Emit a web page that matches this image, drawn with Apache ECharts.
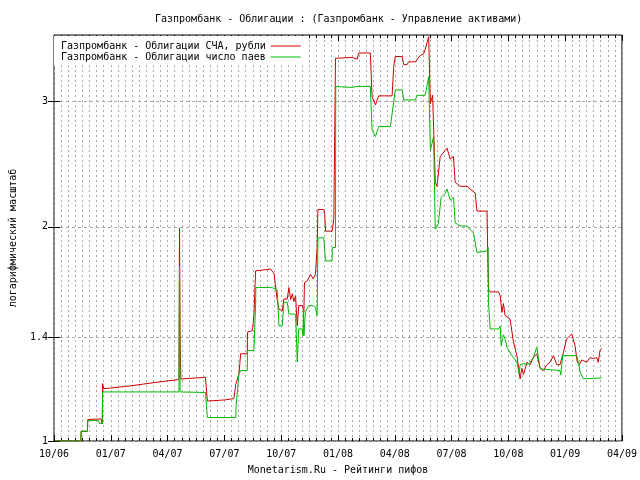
<!DOCTYPE html>
<html>
<head>
<meta charset="utf-8">
<script src="https://cdn.jsdelivr.net/npm/echarts@6/dist/echarts.min.js"></script>
<style>html,body{margin:0;padding:0;background:#fff}#c{width:640px;height:480px}</style>
</head>
<body>
<div id="c"></div>
<script>
// x values: months elapsed since 1 Oct 2006
const titleText = 'Газпромбанк - Облигации : (Газпромбанк - Управление активами)';
const xAxisTitle = 'Monetarism.Ru - Рейтинги пифов';
const yAxisTitle = 'логарифмический масштаб';
const seriesNames = ['Газпромбанк - Облигации СЧА, рубли', 'Газпромбанк - Облигации число паев'];
const yTickValues = [1, 1.4, 2, 3];
const xTickMonths = [0, 3, 6, 9, 12, 15, 18, 21, 24, 27, 30];

const scaRubli = [
  [0.10,1.000],[1.42,1.000],[1.43,1.032],[1.77,1.032],[1.78,1.072],[2.48,1.074],[2.55,1.058],
  [2.57,1.204],[2.62,1.184],[4.0,1.195],[5.5,1.210],[6.60,1.220],[6.63,1.99],[6.66,1.40],
  [6.70,1.222],[8.0,1.229],[8.10,1.138],[9.0,1.142],[9.5,1.147],[9.6,1.20],[9.77,1.243],
  [9.86,1.326],[10.21,1.326],[10.22,1.422],[10.48,1.43],[10.56,1.5],[10.65,1.734],[10.7,1.744],
  [11.44,1.744],[11.62,1.72],[11.70,1.652],[11.79,1.58],[11.88,1.532],[12.06,1.525],[12.14,1.583],
  [12.32,1.583],[12.41,1.643],[12.50,1.58],[12.59,1.61],[12.67,1.57],[12.76,1.60],[12.85,1.452],
  [12.93,1.55],[13.11,1.55],[13.20,1.52],[13.23,1.67],[13.38,1.68],[13.55,1.715],[13.69,1.69],
  [13.81,1.715],[13.90,1.87],[13.94,2.115],[14.25,2.115],[14.30,2.083],[14.34,1.972],[14.69,1.972],
  [14.78,2.05],[14.87,3.45],[14.96,3.47],[15.75,3.46],[15.76,3.44],[16.01,3.44],[16.10,3.51],
  [16.71,3.51],[16.80,3.05],[16.98,2.967],[17.15,3.055],[17.86,3.055],[17.94,3.35],[18.03,3.47],
  [18.39,3.47],[18.47,3.38],[18.65,3.38],[18.73,3.41],[19.09,3.41],[19.18,3.44],[19.35,3.48],
  [19.52,3.50],[19.61,3.55],[19.79,3.70],[19.84,3.72],[19.88,2.98],[20.0,3.06],[20.05,3.06],
  [20.14,2.31],[20.23,2.28],[20.40,2.51],[20.76,2.58],[20.93,2.49],[21.10,2.51],[21.19,2.31],
  [21.46,2.28],[21.81,2.28],[22.25,2.23],[22.34,2.104],[22.87,2.104],[22.95,1.634],[23.04,1.62],
  [23.48,1.62],[23.57,1.60],[23.66,1.516],[23.74,1.56],[23.83,1.50],[24.09,1.484],[24.27,1.377],
  [24.45,1.318],[24.62,1.223],[24.71,1.265],[24.80,1.24],[24.98,1.29],[25.15,1.28],[25.32,1.31],
  [25.50,1.326],[25.68,1.265],[25.85,1.256],[26.03,1.28],[26.20,1.29],[26.38,1.318],[26.56,1.28],
  [26.73,1.28],[26.90,1.33],[27.08,1.391],[27.35,1.414],[27.43,1.414],[27.52,1.362],[27.64,1.29],
  [27.75,1.28],[27.88,1.30],[28.14,1.29],[28.31,1.31],[28.49,1.305],[28.67,1.31],[28.75,1.29],
  [28.84,1.34],[28.93,1.35]
];

const chisloPaev = [
  [0.10,1.000],[1.42,1.000],[1.43,1.032],[1.77,1.032],[1.78,1.068],[2.35,1.068],[2.40,1.058],
  [2.55,1.058],[2.57,1.172],[6.60,1.172],[6.63,1.76],[6.66,1.172],[8.0,1.170],[8.10,1.079],
  [9.6,1.079],[9.62,1.122],[9.77,1.243],[9.86,1.256],[10.21,1.256],[10.22,1.34],[10.56,1.34],
  [10.65,1.557],[10.66,1.643],[11.44,1.643],[11.62,1.64],[11.79,1.63],[11.88,1.452],[12.06,1.452],
  [12.14,1.566],[12.32,1.566],[12.41,1.508],[12.76,1.508],[12.85,1.291],[12.93,1.437],[13.11,1.437],
  [13.15,1.406],[13.18,1.53],[13.20,1.406],[13.28,1.52],[13.45,1.549],[13.69,1.549],[13.81,1.54],
  [13.90,1.5],[13.94,1.93],[14.25,1.93],[14.34,1.791],[14.69,1.791],[14.70,1.87],[14.87,1.87],
  [14.88,3.148],[15.75,3.14],[16.01,3.15],[16.71,3.15],[16.80,2.736],[16.98,2.678],[17.15,2.766],
  [17.77,2.766],[17.86,2.75],[18.03,3.115],[18.39,3.115],[18.47,3.015],[19.09,3.015],[19.18,3.06],
  [19.61,3.06],[19.79,3.25],[19.88,2.56],[20.05,2.68],[20.14,1.984],[20.30,2.02],[20.45,2.20],
  [20.67,2.23],[20.76,2.26],[20.93,2.18],[21.10,2.20],[21.19,2.026],[21.46,2.005],[21.81,2.005],
  [22.16,1.96],[22.34,1.84],[22.87,1.85],[22.93,1.87],[22.95,1.566],[23.04,1.437],[23.48,1.437],
  [23.57,1.45],[23.62,1.362],[23.74,1.41],[23.83,1.39],[23.92,1.355],[24.18,1.318],[24.45,1.291],
  [24.57,1.243],[24.62,1.28],[24.80,1.285],[24.98,1.28],[25.15,1.29],[25.32,1.31],[25.50,1.355],
  [25.59,1.31],[25.68,1.263],[25.77,1.256],[26.73,1.256],[26.77,1.238],[26.87,1.318],[27.61,1.318],
  [27.70,1.29],[27.79,1.25],[27.96,1.223],[28.93,1.226]
];

const FONT = 'DejaVu Sans Mono';
function monthLabel(v) {
  const total = 9 + Math.round(v);
  const mo = (total % 12) + 1;
  const yr = 6 + Math.floor(total / 12);
  return String(mo).padStart(2, '0') + '/' + String(yr).padStart(2, '0');
}

const chart = echarts.init(document.getElementById('c'), null, {renderer: 'canvas'});
const gridLine = {show: true, lineStyle: {color: '#a8a8a8', width: 1, type: [2, 3]}};

const xBase = {
  type: 'value', min: 0, max: 30, interval: 3,
  axisLine: {show: false},
  minorTick: {show: true, splitNumber: 8, length: 3, lineStyle: {color: '#000'}},
  axisTick: {show: true, inside: true, length: 6, lineStyle: {color: '#000'}}
};
const yBase = {
  type: 'log', logBase: 10, min: 1, max: 3.72,
  axisLine: {show: false},
  axisTick: {show: true, inside: true, length: 6, customValues: yTickValues, lineStyle: {color: '#000'}}
};

chart.setOption({
  animation: false,
  backgroundColor: '#fff',
  title: {
    text: titleText, left: 150, top: 9,
    textStyle: {fontFamily: FONT, fontSize: 10, fontWeight: 'normal', color: '#000'}
  },
  legend: {
    left: 54, top: 36, orient: 'vertical', align: 'right',
    padding: [5, 6, 3, 7], backgroundColor: '#fff',
    icon: 'path://M0,0H30V1H0Z', symbolKeepAspect: true,
    itemWidth: 30, itemHeight: 10, itemGap: 1,
    textStyle: {fontFamily: FONT, fontSize: 10, color: '#000'},
    data: seriesNames
  },
  grid: {left: 53, right: 18, top: 35, bottom: 38, show: true, borderColor: '#000', borderWidth: 1, backgroundColor: 'transparent'},
  xAxis: [
    Object.assign({}, xBase, {
      position: 'bottom',
      name: xAxisTitle, nameLocation: 'middle', nameGap: 24,
      nameTextStyle: {fontFamily: FONT, fontSize: 10, color: '#000'},
      axisLabel: {formatter: monthLabel, fontFamily: FONT, fontSize: 10, color: '#000', margin: 8, showMaxLabel: true, showMinLabel: true},
      splitLine: gridLine,
      minorSplitLine: gridLine
    }),
    Object.assign({}, xBase, {
      position: 'top', axisLabel: {show: false}, splitLine: {show: false}
    })
  ],
  yAxis: [
    Object.assign({}, yBase, {
      position: 'left',
      name: yAxisTitle, nameLocation: 'middle', nameGap: 36, nameRotate: 90,
      nameTextStyle: {fontFamily: FONT, fontSize: 10, color: '#000'},
      axisLabel: {customValues: yTickValues, fontFamily: FONT, fontSize: 10, color: '#000', margin: 6,
        formatter: v => String(Math.round(v * 10) / 10)},
      splitLine: {show: true, lineStyle: {color: '#a8a8a8', width: 1, type: [3, 3]}}
    }),
    Object.assign({}, yBase, {
      position: 'right', axisLabel: {show: false}, splitLine: {show: false}
    })
  ],
  series: [
    {name: seriesNames[0], type: 'line', data: scaRubli, showSymbol: false, symbol: 'none',
      lineStyle: {color: '#d00000', width: 1}, itemStyle: {color: '#d00000'}, xAxisIndex: 0, yAxisIndex: 0},
    {name: seriesNames[1], type: 'line', data: chisloPaev, showSymbol: false, symbol: 'none',
      lineStyle: {color: '#00b800', width: 1}, itemStyle: {color: '#00b800'}, xAxisIndex: 0, yAxisIndex: 0}
  ]
});
</script>
</body>
</html>
